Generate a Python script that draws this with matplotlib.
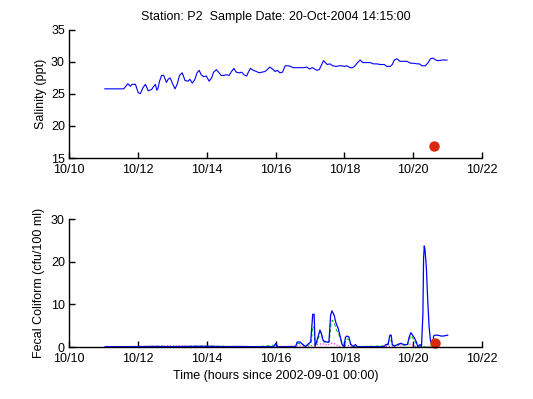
import matplotlib
matplotlib.use('Agg')
import matplotlib.pyplot as plt

plt.rcParams['font.family'] = ['Liberation Sans', 'DejaVu Sans']
plt.rcParams['font.size'] = 9

# x values are day of October 2004
tick_days = [10, 12, 14, 16, 18, 20, 22]
tick_labels = ['10/10', '10/12', '10/14', '10/16', '10/18', '10/20', '10/22']

sal_t = [11.04, 11.59, 11.71, 11.78, 11.83, 11.93, 12.01, 12.07, 12.15, 12.22, 12.30, 12.40, 12.46,
         12.51, 12.55, 12.58, 12.63, 12.69, 12.75, 12.83, 12.88, 12.94, 13.00, 13.08, 13.14, 13.21,
         13.29, 13.37, 13.46, 13.51, 13.58, 13.65, 13.72, 13.78, 13.84, 13.91, 13.99, 14.07, 14.14,
         14.20, 14.28, 14.36, 14.42, 14.50, 14.57, 14.65, 14.72, 14.79, 14.86, 14.94, 15.02, 15.08,
         15.16, 15.21, 15.27, 15.35, 15.45, 15.52, 15.60, 15.69, 15.76, 15.83, 15.91, 15.99, 16.05,
         16.13, 16.20, 16.28, 16.37, 16.44, 16.51, 16.71, 16.81, 16.91, 16.98, 17.08, 17.19, 17.27,
         17.34, 17.39, 17.45, 17.50, 17.58, 17.66, 17.76, 17.85, 17.93, 17.99, 18.07, 18.17, 18.24,
         18.31, 18.38, 18.46, 18.53, 18.63, 18.75, 18.84, 18.94, 19.04, 19.16, 19.23, 19.33, 19.39,
         19.45, 19.53, 19.61, 19.72, 19.82, 19.92, 20.01, 20.11, 20.18, 20.25, 20.35, 20.42, 20.50,
         20.58, 20.65, 20.73, 20.84, 20.98]
sal_v = [25.8, 25.8, 26.6, 26.2, 26.5, 26.5, 25.2, 25.05, 26.0, 26.5, 25.5, 25.7, 26.2,
         26.5, 25.6, 25.8, 27.0, 27.9, 27.9, 26.8, 27.3, 27.5, 26.7, 25.8, 26.5, 27.9,
         28.3, 27.1, 27.0, 27.3, 26.7, 27.2, 28.3, 28.7, 28.0, 27.7, 27.8, 27.0, 27.5,
         28.4, 28.8, 28.3, 27.9, 27.9, 28.0, 27.9, 28.5, 29.0, 28.4, 28.3, 28.4, 28.0,
         27.8, 28.4, 29.0, 28.7, 28.5, 28.3, 28.4, 28.5, 28.8, 29.2, 28.9, 28.5, 28.7,
         28.3, 28.4, 29.4, 29.4, 29.3, 29.1, 29.1, 29.1, 29.2, 28.9, 29.1, 28.7, 28.8,
         29.6, 30.2, 29.9, 29.6, 29.7, 29.4, 29.3, 29.4, 29.4, 29.3, 29.4, 29.1, 29.1,
         29.4, 29.9, 30.3, 29.9, 29.9, 29.9, 29.7, 29.7, 29.6, 29.6, 29.3, 29.3, 29.6,
         30.3, 30.5, 30.1, 30.1, 30.1, 29.8, 29.8, 29.7, 29.7, 29.4, 29.4, 29.8, 30.5,
         30.6, 30.3, 30.2, 30.3, 30.3]

sample_day = 20.59
sample_sal = 16.95
sample_fc = 1.0

fc_t = [11.05, 12.0, 12.5, 13.0, 13.5, 14.0, 14.5, 15.0, 15.5, 15.95, 16.01, 16.06, 16.58, 16.63,
        16.71, 16.78, 16.87, 16.94, 17.02, 17.08, 17.12, 17.15, 17.19, 17.24, 17.29, 17.33, 17.38,
        17.46, 17.55, 17.60, 17.64, 17.70, 17.76, 17.82, 17.88, 17.93, 17.99, 18.03, 18.07, 18.13,
        18.18, 18.26, 18.32, 18.38, 19.16, 19.20, 19.27, 19.32, 19.36, 19.39, 19.45, 19.54, 19.64,
        19.73, 19.83, 19.88, 19.93, 19.98, 20.03, 20.09, 20.13, 20.20, 20.24, 20.28, 20.30, 20.32,
        20.34, 20.38, 20.42, 20.46, 20.50, 20.53, 20.57, 20.59, 20.63, 20.71, 20.81, 20.88, 21.0]
fc_blue = [0.1, 0.1, 0.15, 0.1, 0.15, 0.2, 0.1, 0.15, 0.1, 0.1, 0.9, 0.1, 0.1, 1.2,
           1.2, 0.7, 0.15, 0.7, 1.2, 7.7, 7.7, 0.2, 1.2, 2.6, 4.0, 3.2, 1.6,
           1.2, 1.2, 7.5, 8.5, 7.5, 5.5, 4.4, 2.4, 0.7, 0.15, 2.3, 2.6, 2.4,
           0.7, 0.15, 0.6, 0.1, 0.1, 0.6, 0.6, 2.8, 2.8, 0.6, 0.2, 0.6, 0.9,
           0.6, 0.6, 2.3, 3.4, 2.8, 2.2, 1.2, 0.15, 0.6, 0.15, 7.7, 20.8, 23.7,
           22.9, 18.8, 11.0, 4.8, 1.6, 0.8, 0.15, 2.6, 2.8, 2.8, 2.6, 2.6, 2.8]

fc_green_t = [11.05, 12.4, 13.0, 14.0, 15.5, 16.0, 16.06, 16.58, 16.65, 16.75, 16.87, 16.96, 17.03,
              17.08, 17.12, 17.15, 17.2, 17.25, 17.30, 17.34, 17.4, 17.5, 17.56, 17.61, 17.65, 17.71,
              17.77, 17.83, 17.89, 17.94, 17.99, 18.04, 18.08, 18.13, 18.19, 18.26, 19.2, 19.32, 19.37,
              19.4, 19.6, 19.83, 19.88, 19.93, 19.98, 20.03, 20.09, 20.14, 20.5]
fc_green = [0.05, 0.2, 0.2, 0.25, 0.1, 0.5, 0.05, 0.05, 0.9, 0.8, 0.1, 0.5, 0.9,
            4.8, 4.5, 0.2, 1.0, 2.2, 3.6, 2.8, 1.2, 1.0, 1.3, 5.5, 6.3, 5.5,
            4.0, 3.2, 1.8, 0.5, 0.1, 1.7, 1.9, 1.8, 0.5, 0.1, 0.3, 1.5, 1.5,
            0.4, 0.6, 0.4, 1.8, 2.7, 2.2, 1.6, 0.8, 0.1, 0.05]

fc_mag_t = [11.05, 12.4, 13.0, 14.5, 16.0, 16.6, 16.9, 17.2, 17.35, 17.5, 17.62, 17.7, 17.85,
            18.05, 18.2, 19.3, 19.55, 19.9, 20.0, 20.1, 20.5]
fc_mag = [0.05, 0.25, 0.3, 0.2, 0.1, 0.3, 0.1, 0.6, 0.8, 0.5, 0.9, 0.8, 0.2,
          0.5, 0.1, 0.2, 0.4, 0.7, 0.4, 0.1, 0.05]

fig = plt.figure(figsize=(5.33, 3.99), dpi=100)
ax1 = fig.add_axes([0.1295, 0.604, 0.775, 0.321])
ax2 = fig.add_axes([0.1295, 0.130, 0.775, 0.321])

for ax in (ax1, ax2):
    ax.spines['top'].set_visible(False)
    ax.spines['right'].set_visible(False)
    ax.spines['left'].set_linewidth(1.0)
    ax.spines['bottom'].set_linewidth(1.0)
    ax.tick_params(direction='in', length=4, width=1, labelsize=9)
    ax.tick_params(axis='x', pad=4.5)
    ax.tick_params(axis='y', pad=3)
    ax.set_xlim(10, 22)
    ax.set_xticks(tick_days)
    ax.set_xticklabels(tick_labels)

# salinity
ax1.plot(sal_t, sal_v, '-', color='#0000ff', lw=0.8)
ax1.plot([sample_day], [sample_sal], 'o', color='#d82a08', ms=6.5, mec='#d82a08')
ax1.set_ylim(15, 35)
ax1.set_yticks([15, 20, 25, 30, 35])
ax1.set_ylabel('Salinity (ppt)', labelpad=3)
ax1.set_title('Station: P2  Sample Date: 20-Oct-2004 14:15:00', fontsize=9, pad=7)

# fecal coliform
ax2.plot(fc_mag_t, fc_mag, ':', color='#ff00ff', lw=0.8)
ax2.plot(fc_green_t, fc_green, '--', color='#00cc00', lw=0.8, dashes=(3, 2))
ax2.plot(fc_t, fc_blue, '-', color='#0000ff', lw=0.9)
ax2.plot([sample_day + 0.04], [sample_fc], 'o', color='#d82a08', ms=6.5, mec='#d82a08', clip_on=False)
ax2.set_ylim(0, 30)
ax2.set_yticks([0, 10, 20, 30])
ax2.set_ylabel('Fecal Coliform (cfu/100 ml)', labelpad=4)
ax2.set_xlabel('Time (hours since 2002-09-01 00:00)', labelpad=3)

fig.savefig('out.png', dpi=100)
